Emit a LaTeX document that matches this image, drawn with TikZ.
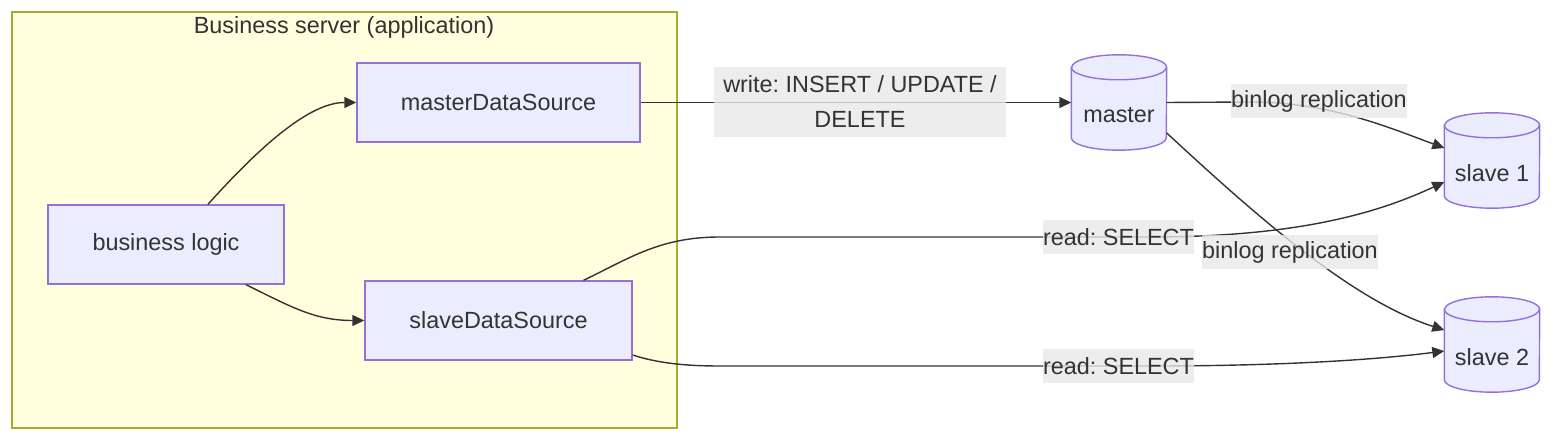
\documentclass[tikz,border=0pt]{standalone}
\usepackage{fontspec}
\setmainfont{Liberation Sans}
\usetikzlibrary{arrows.meta}
\definecolor{boxfill}{HTML}{ECECFF}
\definecolor{boxline}{HTML}{9370DB}
\definecolor{groupfill}{HTML}{FFFFDE}
\definecolor{groupline}{HTML}{AAAA33}
\definecolor{ink}{HTML}{333333}
\definecolor{tagfill}{HTML}{E8E8E8}
\frenchspacing

% cylinder drawn round an empty node of 95 x 95
\newcommand{\dbdraw}[1]{%
  \draw[boxline, fill=boxfill, line width=1.4pt]
    ([yshift=-12.5pt]#1.north west) -- ([yshift=12.5pt]#1.south west)
    arc[start angle=180, end angle=360, x radius=47.5pt, y radius=12.5pt]
    -- ([yshift=-12.5pt]#1.north east)
    arc[start angle=0, end angle=180, x radius=47.5pt, y radius=12.5pt] -- cycle;
  \draw[boxline, line width=1.4pt] ([yshift=-12.5pt]#1.north west)
    arc[start angle=180, end angle=360, x radius=47.5pt, y radius=12.5pt];
}

\begin{document}
\begin{tikzpicture}[x=1pt, y=1pt,
  every node/.style={text=ink, font=\fontsize{23.4}{35}\selectfont},
  box/.style={draw=boxline, fill=boxfill, line width=1.4pt, minimum height=79pt},
  db/.style={minimum width=95pt, minimum height=95pt, inner sep=0pt},
  tag/.style={fill=tagfill, fill opacity=0.8, text opacity=1, inner xsep=0pt, inner ysep=0pt, minimum height=34pt},
  link/.style={ink, line width=1.4pt, -{Triangle[length=12pt, width=11pt]}},
  plain/.style={ink, line width=1.4pt}]
\useasboundingbox (0,0) rectangle (1568,-446);

% application group
\draw[groupline, fill=groupfill, line width=1.4pt] (12,-12) rectangle (677,-428);
\node (G) at (344,-27) {Business server (application)};

\node[box, minimum width=283pt] (MDS) at (498.5,-102.5) {masterDataSource};
\node[box, minimum width=236pt] (BL)  at (166,-244.5) {business logic};
\node[box, minimum width=267pt] (SDS) at (498.5,-320.5) {slaveDataSource};

\node[db] (M)  at (1119,-102.5) {};
\node[db] (S1) at (1492,-160.5) {};
\node[db] (S2) at (1492,-344.5) {};
\dbdraw{M}
\dbdraw{S1}
\dbdraw{S2}
\node (Mt)  at ([yshift=-12.5pt]M.center)  {master};
\node (S1t) at ([yshift=-12.5pt]S1.center) {slave 1};
\node (S2t) at ([yshift=-12.5pt]S2.center) {slave 2};

% edges
\draw[link] ([xshift=42pt]BL.north) .. controls +(70,78) and +(-38,0) .. (MDS.west);
\draw[link] ([xshift=80pt]BL.south) .. controls +(45,-22) and +(-50,0) .. (SDS.west);
\draw[link] (MDS.east) -- (M.west);
\draw[link] (M.east) -- (1250,-102) .. controls (1330,-102) and (1390,-128) .. ([yshift=12.5pt]S1.west);
\draw[link] ([yshift=-30.5pt]M.east) .. controls (1250,-210) and (1350,-300) .. ([yshift=14.5pt]S2.west);
\draw[link] ([xshift=85pt]SDS.north) .. controls (630,-258) and (660,-237) .. (720,-237)
  -- (1150,-237) .. controls (1300,-237) and (1380,-212) .. ([yshift=-21.5pt]S1.west);
\draw[link] ([yshift=-34.5pt]SDS.east) .. controls (660,-364) and (690,-366) .. (720,-366)
  -- (1150,-366) .. controls (1300,-366) and (1390,-358) .. ([yshift=-6.5pt]S2.west);

% edge labels
\node[tag, align=center, minimum width=292pt, minimum height=70pt] (W) at (860,-102) {write: INSERT / UPDATE /\\DELETE};
\node[tag] (B1) at (1319,-101) {binlog replication};
\node[tag] (B2) at (1290,-252) {binlog replication};
\node[tag] (R1) at (1118.5,-237) {read: SELECT};
\node[tag] (R2) at (1118.5,-366) {read: SELECT};
\end{tikzpicture}
\end{document}
